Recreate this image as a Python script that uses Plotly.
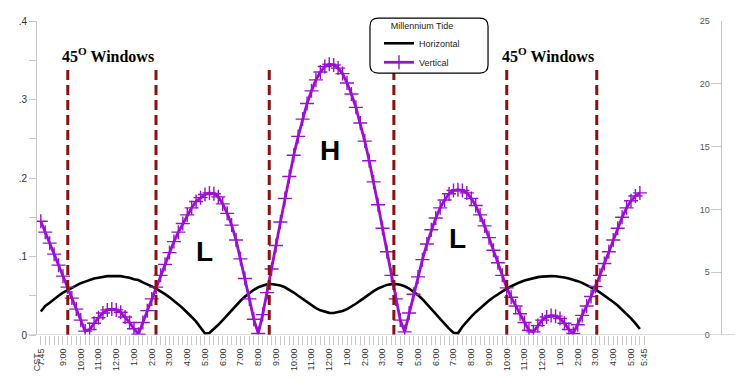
import plotly.graph_objects as go

# ---- data (15-minute samples starting 7:45 CST) ----
vertical = [
    0.145, 0.131, 0.117, 0.103, 0.089, 0.075, 0.061, 0.047, 0.033, 0.019, 0.005,
    0.007, 0.015, 0.022, 0.028, 0.032, 0.033, 0.032, 0.029, 0.023, 0.016, 0.008,
    0.001, 0.016, 0.031, 0.046, 0.061, 0.076, 0.090, 0.105, 0.119, 0.131, 0.142,
    0.153, 0.162, 0.170, 0.175, 0.179, 0.181,
    0.180, 0.176, 0.167, 0.155, 0.140, 0.121, 0.097, 0.072, 0.046, 0.020,
    0.002, 0.026, 0.054, 0.084, 0.114, 0.144, 0.174, 0.202, 0.229, 0.253,
    0.275, 0.295, 0.311, 0.325, 0.335, 0.342, 0.345, 0.344, 0.340, 0.333,
    0.321, 0.307, 0.290, 0.270, 0.247, 0.222, 0.195, 0.166, 0.136, 0.106,
    0.076, 0.046, 0.019,
    0.004, 0.028, 0.052, 0.074, 0.096, 0.116, 0.134, 0.149, 0.162, 0.172, 0.180, 0.184,
    0.185, 0.184, 0.181, 0.174, 0.165, 0.153, 0.139, 0.124, 0.108, 0.092, 0.076,
    0.060, 0.048, 0.037, 0.027, 0.016, 0.006,
    0.004, 0.012, 0.019, 0.023, 0.025, 0.024, 0.021, 0.015, 0.007,
    0.002, 0.013, 0.025, 0.037, 0.049, 0.062, 0.076, 0.091, 0.106, 0.121, 0.136,
    0.150, 0.162, 0.171, 0.177, 0.181,
]
horizontal = [
    0.030, 0.037, 0.041, 0.046, 0.050, 0.054, 0.057, 0.061, 0.064, 0.066,
    0.068, 0.070, 0.072, 0.073, 0.074, 0.075, 0.075, 0.075, 0.075, 0.074,
    0.073, 0.071, 0.070, 0.067, 0.065, 0.062, 0.059, 0.056, 0.052, 0.048,
    0.044, 0.039, 0.034, 0.029, 0.023, 0.017, 0.010, 0.002,
    0.0025, 0.0073, 0.0130, 0.0191, 0.0254, 0.0317, 0.0378, 0.0436, 0.0489, 0.0536,
    0.0576, 0.0608, 0.0631, 0.0645, 0.0650, 0.0645, 0.0631, 0.0608, 0.0577, 0.0541,
    0.0500, 0.0458, 0.0416, 0.0377, 0.0342, 0.0314, 0.0294, 0.0282, 0.0280, 0.0288,
    0.0305, 0.0330, 0.0361, 0.0398, 0.0438, 0.0480, 0.0521, 0.0559, 0.0592, 0.0619,
    0.0638, 0.0648,
    0.0649, 0.0640, 0.0621, 0.0592, 0.0554, 0.0508, 0.0456, 0.0397, 0.0335, 0.0270,
    0.0205, 0.0141, 0.0081, 0.0029,
    0.0022, 0.0106, 0.0174, 0.0235, 0.0291, 0.0344, 0.0393, 0.0438, 0.0481, 0.0521,
    0.0557, 0.0591, 0.0621, 0.0649, 0.0673, 0.0694, 0.0711, 0.0726, 0.0737, 0.0744,
    0.0749, 0.0750, 0.0748, 0.0742, 0.0733, 0.0720, 0.0705, 0.0686, 0.0664, 0.0638,
    0.0609, 0.0578, 0.0543, 0.0505, 0.0464, 0.0421, 0.0375, 0.0324, 0.0270, 0.0211,
    0.0148, 0.0076,
]
hours = [i * 0.25 for i in range(len(vertical))]  # hours after 7:45 CST

tick_vals = [0] + [1.25 + i for i in range(33)] + [34]
tick_labels = ["7:45", "9:00", "10:00", "11:00", "12:00", "1:00", "2:00", "3:00", "4:00",
               "5:00", "6:00", "7:00", "8:00", "9:00", "10:00", "11:00", "12:00",
               "1:00", "2:00", "3:00", "4:00", "5:00", "6:00", "7:00", "8:00", "9:00",
               "10:00", "11:00", "12:00", "1:00", "2:00", "3:00", "4:00", "5:00", "5:45"]

window_hours = [1.52, 6.49, 12.87, 19.89, 26.25, 31.32]
window_top = 0.34

PURPLE = "#9a10d0"
DARKRED = "#8b1010"

fig = go.Figure()
fig.add_trace(go.Scatter(x=hours, y=horizontal, name="Horizontal", mode="lines",
                         line=dict(color="black", width=2.6)))
fig.add_trace(go.Scatter(x=hours, y=vertical, name="Vertical", mode="lines+markers",
                         line=dict(color=PURPLE, width=2.8),
                         marker=dict(symbol="cross-thin-open", size=10,
                                     line=dict(color="#a545dc", width=1.4))))
# dummy trace for right axis
fig.add_trace(go.Scatter(x=[None], y=[None], yaxis="y2", showlegend=False))

shapes = []
for w in window_hours:
    shapes.append(dict(type="line", xref="x", yref="y", x0=w, x1=w, y0=0, y1=window_top,
                       line=dict(color=DARKRED, width=3, dash="10px,5px"), layer="above"))
# extended baseline
shapes.append(dict(type="line", xref="paper", yref="y", x0=-0.015, x1=1.02, y0=0, y1=0,
                   line=dict(color="#bbbbbb", width=1)))
# rounded legend frame
lx0, lx1, ly0, ly1, r = 0.4868, 0.6594, 0.834, 1.009, 0.012
ry = r * 684 / 320
path = (f"M {lx0+r},{ly1} L {lx1-r},{ly1} Q {lx1},{ly1} {lx1},{ly1-ry} "
        f"L {lx1},{ly0+ry} Q {lx1},{ly0} {lx1-r},{ly0} L {lx0+r},{ly0} "
        f"Q {lx0},{ly0} {lx0},{ly0+ry} L {lx0},{ly1-ry} Q {lx0},{ly1} {lx0+r},{ly1} Z")
shapes.append(dict(type="path", xref="paper", yref="paper", path=path,
                   line=dict(color="black", width=1.2), fillcolor="white", layer="above"))

annotations = [
    dict(x=3.81, y=0.357, text="<b>45<sup>O</sup> Windows</b>", showarrow=False,
         font=dict(family="Liberation Serif", size=16, color="black")),
    dict(x=28.6, y=0.357, text="<b>45<sup>O</sup> Windows</b>", showarrow=False,
         font=dict(family="Liberation Serif", size=16, color="black")),
    dict(x=9.25, y=0.106, text="<b>L</b>", showarrow=False,
         font=dict(family="Liberation Sans", size=28, color="black")),
    dict(x=16.3, y=0.235, text="<b>H</b>", showarrow=False,
         font=dict(family="Liberation Sans", size=28, color="black")),
    dict(x=23.45, y=0.1225, text="<b>L</b>", showarrow=False,
         font=dict(family="Liberation Sans", size=28, color="black")),
    dict(x=0.0, y=-0.05, xref="paper", yref="paper", text="CST", textangle=-90,
         showarrow=False, xanchor="center", yanchor="top",
         font=dict(family="Liberation Sans", size=9, color="#444")),
]

# The page body has an 8px default margin, so the figure is sized to fit 750x392.
fig.update_layout(
    width=742, height=384,
    margin=dict(l=29, r=29, t=7, b=57),
    paper_bgcolor="white", plot_bgcolor="white",
    font=dict(family="Liberation Sans", size=9, color="#333"),
    showlegend=True,
    legend=dict(x=0.5, y=1.0125, xanchor="left", yanchor="top",
                bgcolor="rgba(0,0,0,0)", borderwidth=0,
                font=dict(size=9, color="#222"),
                title=dict(text="Millennium Tide", side="top center",
                           font=dict(size=9, color="#222")),
                tracegroupgap=0, itemwidth=30),
    xaxis=dict(range=[-0.214, 38.32], tickmode="array", tickvals=tick_vals,
               ticktext=tick_labels, tickangle=-90, ticks="outside", ticklen=9,
               tickcolor="#c8c8c8", showgrid=False, zeroline=False, showline=False,
               tickfont=dict(size=9, color="#333"),
               minor=dict(tickmode="array", tickvals=[i * 0.25 for i in range(137)],
                          ticks="outside", ticklen=9, tickcolor="#c8c8c8", showgrid=False)),
    yaxis=dict(range=[0, 0.4], tickmode="array", tickvals=[0, 0.1, 0.2, 0.3, 0.4],
               ticktext=["0", ".1", ".2", ".3", ".4"], ticks="outside", ticklen=7,
               tickcolor="#c8c8c8", showline=True, linecolor="#c8c8c8", linewidth=1,
               showgrid=False, zeroline=False, tickfont=dict(size=10, color="#333"),
               minor=dict(dtick=0.05, ticks="outside", ticklen=7, tickcolor="#c8c8c8")),
    yaxis2=dict(range=[0, 25], overlaying="y", side="right", tickvals=[0, 5, 10, 15, 20, 25],
                ticks="inside", ticklen=10, tickcolor="#c8c8c8", ticklabelposition="inside",
                ticklabeloverflow="allow",
                showline=True, linecolor="#c8c8c8", linewidth=1, showgrid=False,
                zeroline=False, tickfont=dict(size=9, color="#555")),
    shapes=shapes,
    annotations=annotations,
)

fig.write_html("out.html")
